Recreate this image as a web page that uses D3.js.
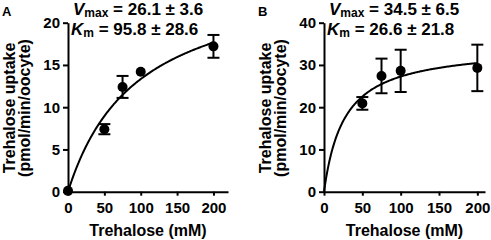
<!DOCTYPE html>
<html lang="en">
<head>
    <meta charset="UTF-8">
    <title>Trehalose uptake</title>
    <script src="https://cdn.jsdelivr.net/npm/d3@7"></script>
    <style>
        body { margin: 0; background: #fff; }
        text { font-family: "Liberation Sans", Arial, sans-serif; font-weight: bold; }
    </style>
</head>
<body>
<script>

    // panel A
    const concA = [0, 50, 75, 100, 200];
    const uptakeA = [0.1, 7.4, 12.4, 14.2, 17.2];
    const errA = [0, 0.6, 1.3, 0.2, 1.35];
    const fitA = {vmax: 26.1, vmaxErr: 3.6, km: 95.8, kmErr: 28.6};
    const yTicksA = [0, 5, 10, 15, 20];

    // panel B
    const concB = [50, 75, 100, 200];
    const uptakeB = [20.9, 27.4, 28.6, 29.3];
    const errB = [1.5, 4.1, 5.0, 5.5];
    const fitB = {vmax: 34.5, vmaxErr: 6.5, km: 26.6, kmErr: 21.8};
    const yTicksB = [0, 10, 20, 30, 40];

    const xTicks = [0, 50, 100, 150, 200];

    const svg = d3.select("body").append("svg").attr("width", 491).attr("height", 240);

    const panels = [
        {letter: "A", conc: concA, val: uptakeA, err: errA, fit: fitA, yTicks: yTicksA,
            xDom: [0, 220], xRange: [68, 228], yMax: 20},
        {letter: "B", conc: concB, val: uptakeB, err: errB, fit: fitB, yTicks: yTicksB,
            xDom: [0, 210], xRange: [324, 485], yMax: 40}
    ];

    panels.forEach(p => {
        const g = svg.append("g");
        const x = d3.scaleLinear().domain(p.xDom).range(p.xRange);
        const y = d3.scaleLinear().domain([0, p.yMax]).range([191.7, 22.7]);
        const x0 = x(0);

        // axes
        const xAxis = g.append("g")
            .attr("transform", `translate(0,${y(0)})`)
            .call(d3.axisBottom(x).tickValues(xTicks).tickSize(4).tickSizeOuter(0).tickPadding(7));
        const yAxis = g.append("g")
            .attr("transform", `translate(${x0},0)`)
            .call(d3.axisLeft(y).tickValues(p.yTicks).tickSize(5).tickSizeOuter(0).tickPadding(3));
        [xAxis, yAxis].forEach(a => {
            a.selectAll("path, line").attr("stroke", "#000").attr("stroke-width", 2);
            a.selectAll("text").attr("font-size", 15).attr("fill", "#000")
                .style("font-family", "'Liberation Sans', Arial, sans-serif").style("font-weight", "bold");
        });

        // fitted Michaelis-Menten curve from the reported parameters
        const xs = d3.range(0, 200.5, 1);
        const curve = d3.line()
            .x(d => x(d))
            .y(d => y(p.fit.vmax * d / (p.fit.km + d)));
        g.append("path").datum(xs).attr("d", curve)
            .attr("fill", "none").attr("stroke", "#000").attr("stroke-width", 2);

        // error bars
        const pts = p.conc.map((c, i) => ({c: c, v: p.val[i], e: p.err[i]}));
        const eb = g.append("g").attr("stroke", "#000").attr("stroke-width", 2);
        pts.filter(d => d.e > 0.4).forEach(d => {
            eb.append("line").attr("x1", x(d.c)).attr("x2", x(d.c))
                .attr("y1", y(d.v - d.e)).attr("y2", y(d.v + d.e));
            [d.v - d.e, d.v + d.e].forEach(v => {
                eb.append("line").attr("x1", x(d.c) - 6).attr("x2", x(d.c) + 6)
                    .attr("y1", y(v)).attr("y2", y(v));
            });
        });

        g.append("g").selectAll("circle").data(pts).join("circle")
            .attr("cx", d => x(d.c)).attr("cy", d => y(d.v)).attr("r", 5).attr("fill", "#000");

        // labels
        g.append("text").attr("x", x0 - 66).attr("y", 16).attr("font-size", 13).text(p.letter);

        const yl = g.append("text").attr("transform", `translate(${x0 - 53},108) rotate(-90)`)
            .attr("text-anchor", "middle").attr("font-size", 16);
        yl.append("tspan").attr("x", 0).attr("y", 0).text("Trehalose uptake");
        yl.append("tspan").attr("x", 0).attr("y", 14.5).text("(pmol/min/oocyte)");

        g.append("text").attr("x", (p.xRange[0] + p.xRange[1]) / 2).attr("y", 236)
            .attr("text-anchor", "middle").attr("font-size", 16).text("Trehalose (mM)");

        const t1 = g.append("text").attr("x", x0 + 5).attr("y", 15).attr("font-size", 17);
        t1.append("tspan").attr("font-style", "italic").text("V");
        t1.append("tspan").attr("font-size", 12).attr("dy", 2).text("max");
        t1.append("tspan").attr("dy", -2).text(` = ${p.fit.vmax} ± ${p.fit.vmaxErr}`);

        const t2 = g.append("text").attr("x", x0 + 3).attr("y", 35).attr("font-size", 17);
        t2.append("tspan").attr("font-style", "italic").text("K");
        t2.append("tspan").attr("font-size", 12).attr("dy", 2).text("m");
        t2.append("tspan").attr("dy", -2).text(` = ${p.fit.km} ± ${p.fit.kmErr}`);
    });

</script>
</body>
</html>
